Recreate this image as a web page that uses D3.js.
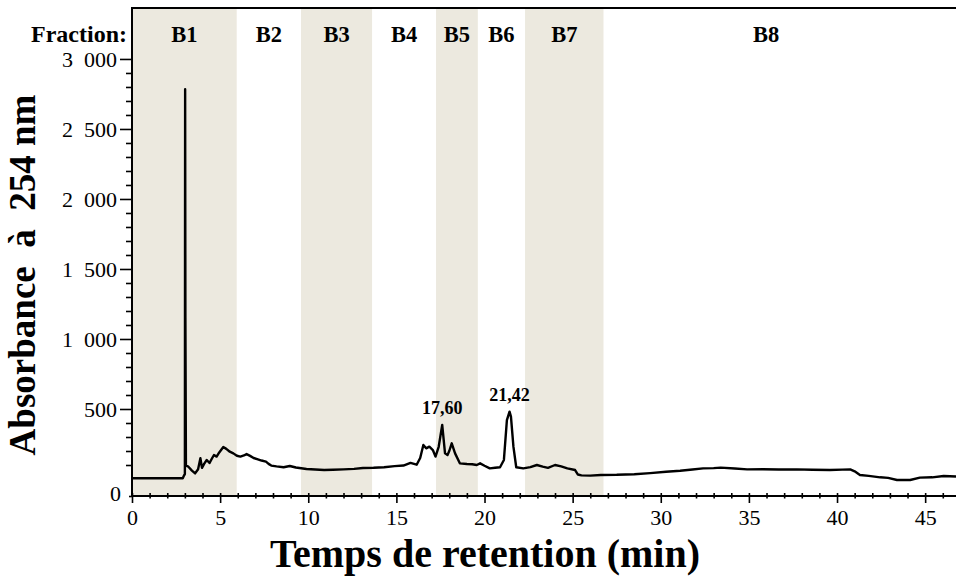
<!DOCTYPE html>
<html><head><meta charset="utf-8">
<script src="https://cdn.jsdelivr.net/npm/d3@7"></script>
<style>
html,body{margin:0;padding:0;background:#fff;}
svg{display:block;}
text{font-family:"Liberation Serif","Times New Roman",serif;fill:#000;}
</style></head>
<body><svg id="chart" width="956" height="577"></svg>
<script>
// ---- data ----
const fractionNames = ["B1","B2","B3","B4","B5","B6","B7","B8"];
const fractionStart = [0, 5.94, 9.59, 13.62, 17.25, 19.62, 22.3, 26.75];
const fractionEnd   = [5.94, 9.59, 13.62, 17.25, 19.62, 22.3, 26.75, 45.2];
const fractionShaded = [true,false,true,false,true,false,true,false];

const timeMin = [0,2.88,2.95,3.0,3.015,3.03,3.06,3.2,3.4,3.58,3.75,3.88,3.97,4.1,4.24,4.4,4.55,4.65,4.8,4.95,5.18,5.35,5.55,5.75,5.95,6.15,6.35,6.5,6.7,6.9,7.1,7.35,7.6,7.75,7.9,8.2,8.6,8.95,9.3,9.9,10.4,10.9,11.4,12.0,12.6,13.1,13.7,14.3,14.9,15.4,15.8,16.15,16.35,16.53,16.69,16.87,17.07,17.22,17.4,17.6,17.76,17.9,18.0,18.14,18.33,18.6,19.0,19.3,19.56,19.75,20.0,20.3,20.6,20.88,21.1,21.27,21.42,21.5,21.64,21.8,22.2,22.6,22.97,23.3,23.6,24.0,24.35,24.7,25.14,25.3,25.5,26.0,26.6,27.5,28.5,29.4,30.3,31.1,31.8,32.4,33.0,33.4,34.2,34.9,35.8,36.7,37.7,38.6,39.6,40.3,40.75,41.0,41.3,41.8,42.45,42.9,43.4,43.8,44.15,44.7,45.4,46.05,46.75];
const absorbance = [5,5,25,35,2784,1150,95,88,60,40,70,148,80,110,136,114,150,171,160,190,228,215,195,183,166,160,168,178,165,150,142,132,124,108,96,90,84,93,82,71,68,64,66,69,72,79,80,84,92,96,115,102,150,243,219,231,207,160,230,386,183,171,200,255,183,112,107,105,100,112,95,76,80,84,136,421,481,445,231,84,76,85,100,88,80,100,90,76,64,32,26,24,29,30,34,42,52,59,68,76,78,81,75,69,70,68,69,66,64,67,69,55,29,22,12,8,-7,-6,-7,10,12,21,18];

const peakTimes = [17.60, 21.42];
const peakValues = [386, 481];
const peakLabels = ["17,60", "21,42"];

const xTicks = [0,5,10,15,20,25,30,35,40,45];
const yTicks = [500,1000,1500,2000,2500,3000];
const yTickLabels = ["500","1\u2007000","1\u2007500","2\u2007000","2\u2007500","3\u2007000"];

// ---- layout ----
const svg = d3.select("#chart");
const L = 132, R = 956, T = 8, B = 496;
const x = d3.scaleLinear().domain([0, 46.75]).range([L, R]);
const y = d3.scaleLinear().domain([-121.4, 3364]).range([B, T]);

// bands
svg.append("g").selectAll("rect")
  .data(fractionNames.map((n,i)=>({n, s:fractionStart[i], e:fractionEnd[i], sh:fractionShaded[i]})).filter(d=>d.sh))
  .join("rect")
  .attr("x", d=>x(d.s)).attr("width", d=>x(d.e)-x(d.s))
  .attr("y", T).attr("height", B-T)
  .attr("fill", "#ECE9DF");

// fraction labels
svg.append("g").selectAll("text")
  .data(fractionNames.map((n,i)=>({n, c:(fractionStart[i]+fractionEnd[i])/2})))
  .join("text")
  .attr("x", d=>x(d.c)).attr("y", 41.5)
  .attr("text-anchor","middle")
  .style("font-size","22.5px").style("font-weight","bold")
  .text(d=>d.n);
svg.append("text").attr("x",127).attr("y",41.5).attr("text-anchor","end")
  .style("font-size","24px").style("font-weight","bold").text("Fraction:");

// trace
const pts = timeMin.map((t,i)=>[t, absorbance[i]]);
svg.append("path").datum(pts)
  .attr("fill","none").attr("stroke","#000").attr("stroke-width",2.4)
  .attr("stroke-linejoin","round")
  .attr("d", d3.line().x(d=>x(d[0])).y(d=>y(d[1])));

// peak labels
svg.append("g").selectAll("text")
  .data(peakTimes.map((t,i)=>({t, v:peakValues[i], l:peakLabels[i]})))
  .join("text")
  .attr("x", d=>x(d.t)).attr("y", d=>y(d.v)-11)
  .attr("text-anchor","middle")
  .style("font-size","18px").style("font-weight","bold")
  .text(d=>d.l);

// top border
svg.append("line").attr("x1",L-1).attr("x2",R).attr("y1",T).attr("y2",T)
  .attr("stroke","#000").attr("stroke-width",2);

// x axis
const xMinor = d3.range(0, 47, 1).filter(v=>v%5!==0);
const gxm = svg.append("g").attr("transform",`translate(0,${B})`)
  .call(d3.axisBottom(x).tickValues(xMinor).tickSize(0).tickFormat(""));
gxm.select(".domain").remove();
gxm.selectAll(".tick line").attr("y1",-3).attr("y2",2.5).attr("stroke","#000").attr("stroke-width",1.6);
const gx = svg.append("g").attr("transform",`translate(0,${B})`)
  .call(d3.axisBottom(x).tickValues(xTicks).tickSize(0).tickFormat(d3.format("d")));
gx.select(".domain").attr("stroke","#000").attr("stroke-width",2).attr("d",`M${L-1},0H${R}`);
gx.selectAll(".tick line").attr("y1",-3).attr("y2",7).attr("stroke","#000").attr("stroke-width",1.6);
gx.selectAll(".tick text").attr("y",29).attr("dy",0).style("font-size","22px")
  .style("font-family",'"Liberation Serif","Times New Roman",serif');

// y axis
const yMinor = d3.range(0, 3001, 100).filter(v=>v%500!==0);
const gym = svg.append("g").attr("transform",`translate(${L},0)`)
  .call(d3.axisLeft(y).tickValues(yMinor).tickSize(6).tickFormat(""));
gym.select(".domain").remove();
gym.selectAll(".tick line").attr("stroke","#000").attr("stroke-width",1.6);
const gy = svg.append("g").attr("transform",`translate(${L},0)`)
  .call(d3.axisLeft(y).tickValues(yTicks).tickSize(12).tickPadding(3)
    .tickFormat((d,i)=>yTickLabels[i]));
gy.select(".domain").attr("stroke","#000").attr("stroke-width",2).attr("d",`M0,${T-1}V${B}`);
gy.selectAll(".tick line").attr("stroke","#000").attr("stroke-width",1.6);
gy.selectAll(".tick text").style("font-size","22px")
  .style("font-family",'"Liberation Serif","Times New Roman",serif');
// bottom "0" label at axis origin
const gy0 = svg.append("g").attr("transform",`translate(${L},0)`)
  .call(d3.axisLeft(y).tickValues([y.domain()[0]]).tickSize(3).tickPadding(8).tickFormat(()=>"0"));
gy0.select(".domain").remove();
gy0.selectAll(".tick line").attr("stroke","#000").attr("stroke-width",1.6);
gy0.selectAll(".tick text").attr("dy","0.2em").style("font-size","22px")
  .style("font-family",'"Liberation Serif","Times New Roman",serif');

// axis titles
svg.append("text").attr("x", 485).attr("y", 567).attr("text-anchor","middle")
  .style("font-size","40px").style("font-weight","bold")
  .text("Temps de retention (min)");
svg.append("text").attr("transform","translate(35,275) rotate(-90)")
  .attr("text-anchor","middle")
  .style("font-size","37px").style("font-weight","bold")
  .text("Absorbance\u00a0\u00a0à\u00a0\u00a0254\u00a0nm");
</script></body></html>
